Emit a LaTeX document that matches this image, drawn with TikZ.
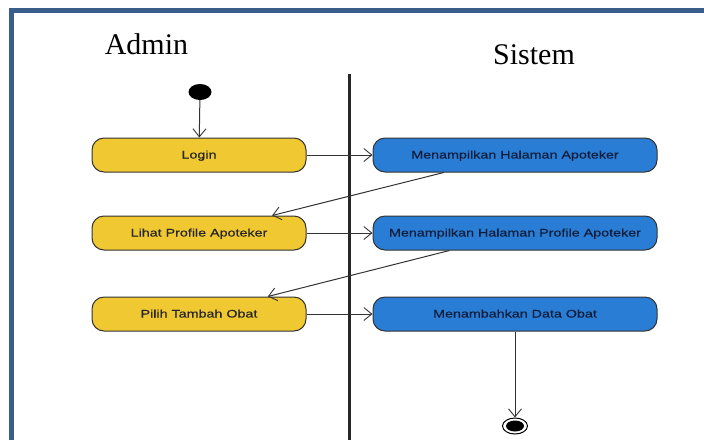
\documentclass[tikz,border=0pt]{standalone}
\usepackage{fontspec}
\setmainfont{Liberation Serif}
\newfontfamily\actfont[FakeStretch=1.3,FakeBold=0.4]{Liberation Sans}
\usetikzlibrary{arrows.meta,calc,shapes.geometric}
\definecolor{framecol}{RGB}{58,94,140}
\definecolor{actyellow}{RGB}{240,200,50}
\definecolor{actblue}{RGB}{42,125,212}
\definecolor{actedge}{RGB}{50,50,50}
\definecolor{bluetext}{RGB}{16,30,60}
\tikzset{
  x=1pt, y=-1pt,
  act/.style={draw=actedge, line width=1pt, rounded corners=12pt,
    minimum width=214pt, minimum height=34pt, inner sep=0pt,
    text height=8pt, text depth=1pt,
    font=\actfont\fontsize{11}{13}\selectfont},
  useract/.style={act, fill=actyellow, text=black!85},
  sysact/.style={act, fill=actblue, text=bluetext, minimum width=284pt},
  flow/.style={draw=black!80, line width=1pt,
    -{Straight Barb[length=8pt, width=13pt, line width=0.9pt]}},
  lanetitle/.style={anchor=base, font=\fontsize{30}{32}\selectfont},
  blob/.style={shape=ellipse, inner sep=0pt}
}
\begin{document}
\begin{tikzpicture}
\useasboundingbox (0,0) rectangle (704,440);
% frame edges
\draw[framecol, line width=5pt] (11.5,440) -- (11.5,10.5) -- (704,10.5);

% swimlane titles and divider
\node[lanetitle] (admin) at (146.5,54) {Admin};
\node[lanetitle] (sistem) at (534,64) {Sistem};
\coordinate (divtop) at (349.5,74);
\coordinate (divbot) at (349.5,440);
\draw[black!85, line width=3pt] (divtop) -- (divbot);

% initial node
\node[blob, fill=black, minimum width=23pt, minimum height=16pt] (start) at (200,92) {};

% activities
\node[useract] (login) at (199,155) {Login};
\node[sysact]  (hal)   at (515,155) {Menampilkan Halaman Apoteker};
\node[useract] (lihat) at (199,233) {Lihat Profile Apoteker};
\node[sysact]  (prof)  at (515,233) {Menampilkan Halaman Profile Apoteker};
\node[useract] (pilih) at (199,314) {Pilih Tambah Obat};
\node[sysact]  (tambah) at (515,314) {Menambahkan Data Obat};

% final node
\node[blob, draw=black, line width=1pt, minimum width=25pt, minimum height=16pt] (end) at (515,426) {};
\node[blob, fill=black, minimum width=18pt, minimum height=11pt] (endcore) at (515,426) {};

% control flow
\draw[flow] (start) -- (login);
\draw[flow] (login) -- (hal);
\draw[flow] ($(hal.south west)!0.25!(hal.south east)$) -- ($(lihat.north west)!0.84!(lihat.north east)$);
\draw[flow] (lihat) -- (prof);
\draw[flow] ($(prof.south west)!0.27!(prof.south east)$) -- ($(pilih.north west)!0.82!(pilih.north east)$);
\draw[flow] (pilih) -- (tambah);
\draw[flow] (tambah) -- (end);
\end{tikzpicture}
\end{document}
